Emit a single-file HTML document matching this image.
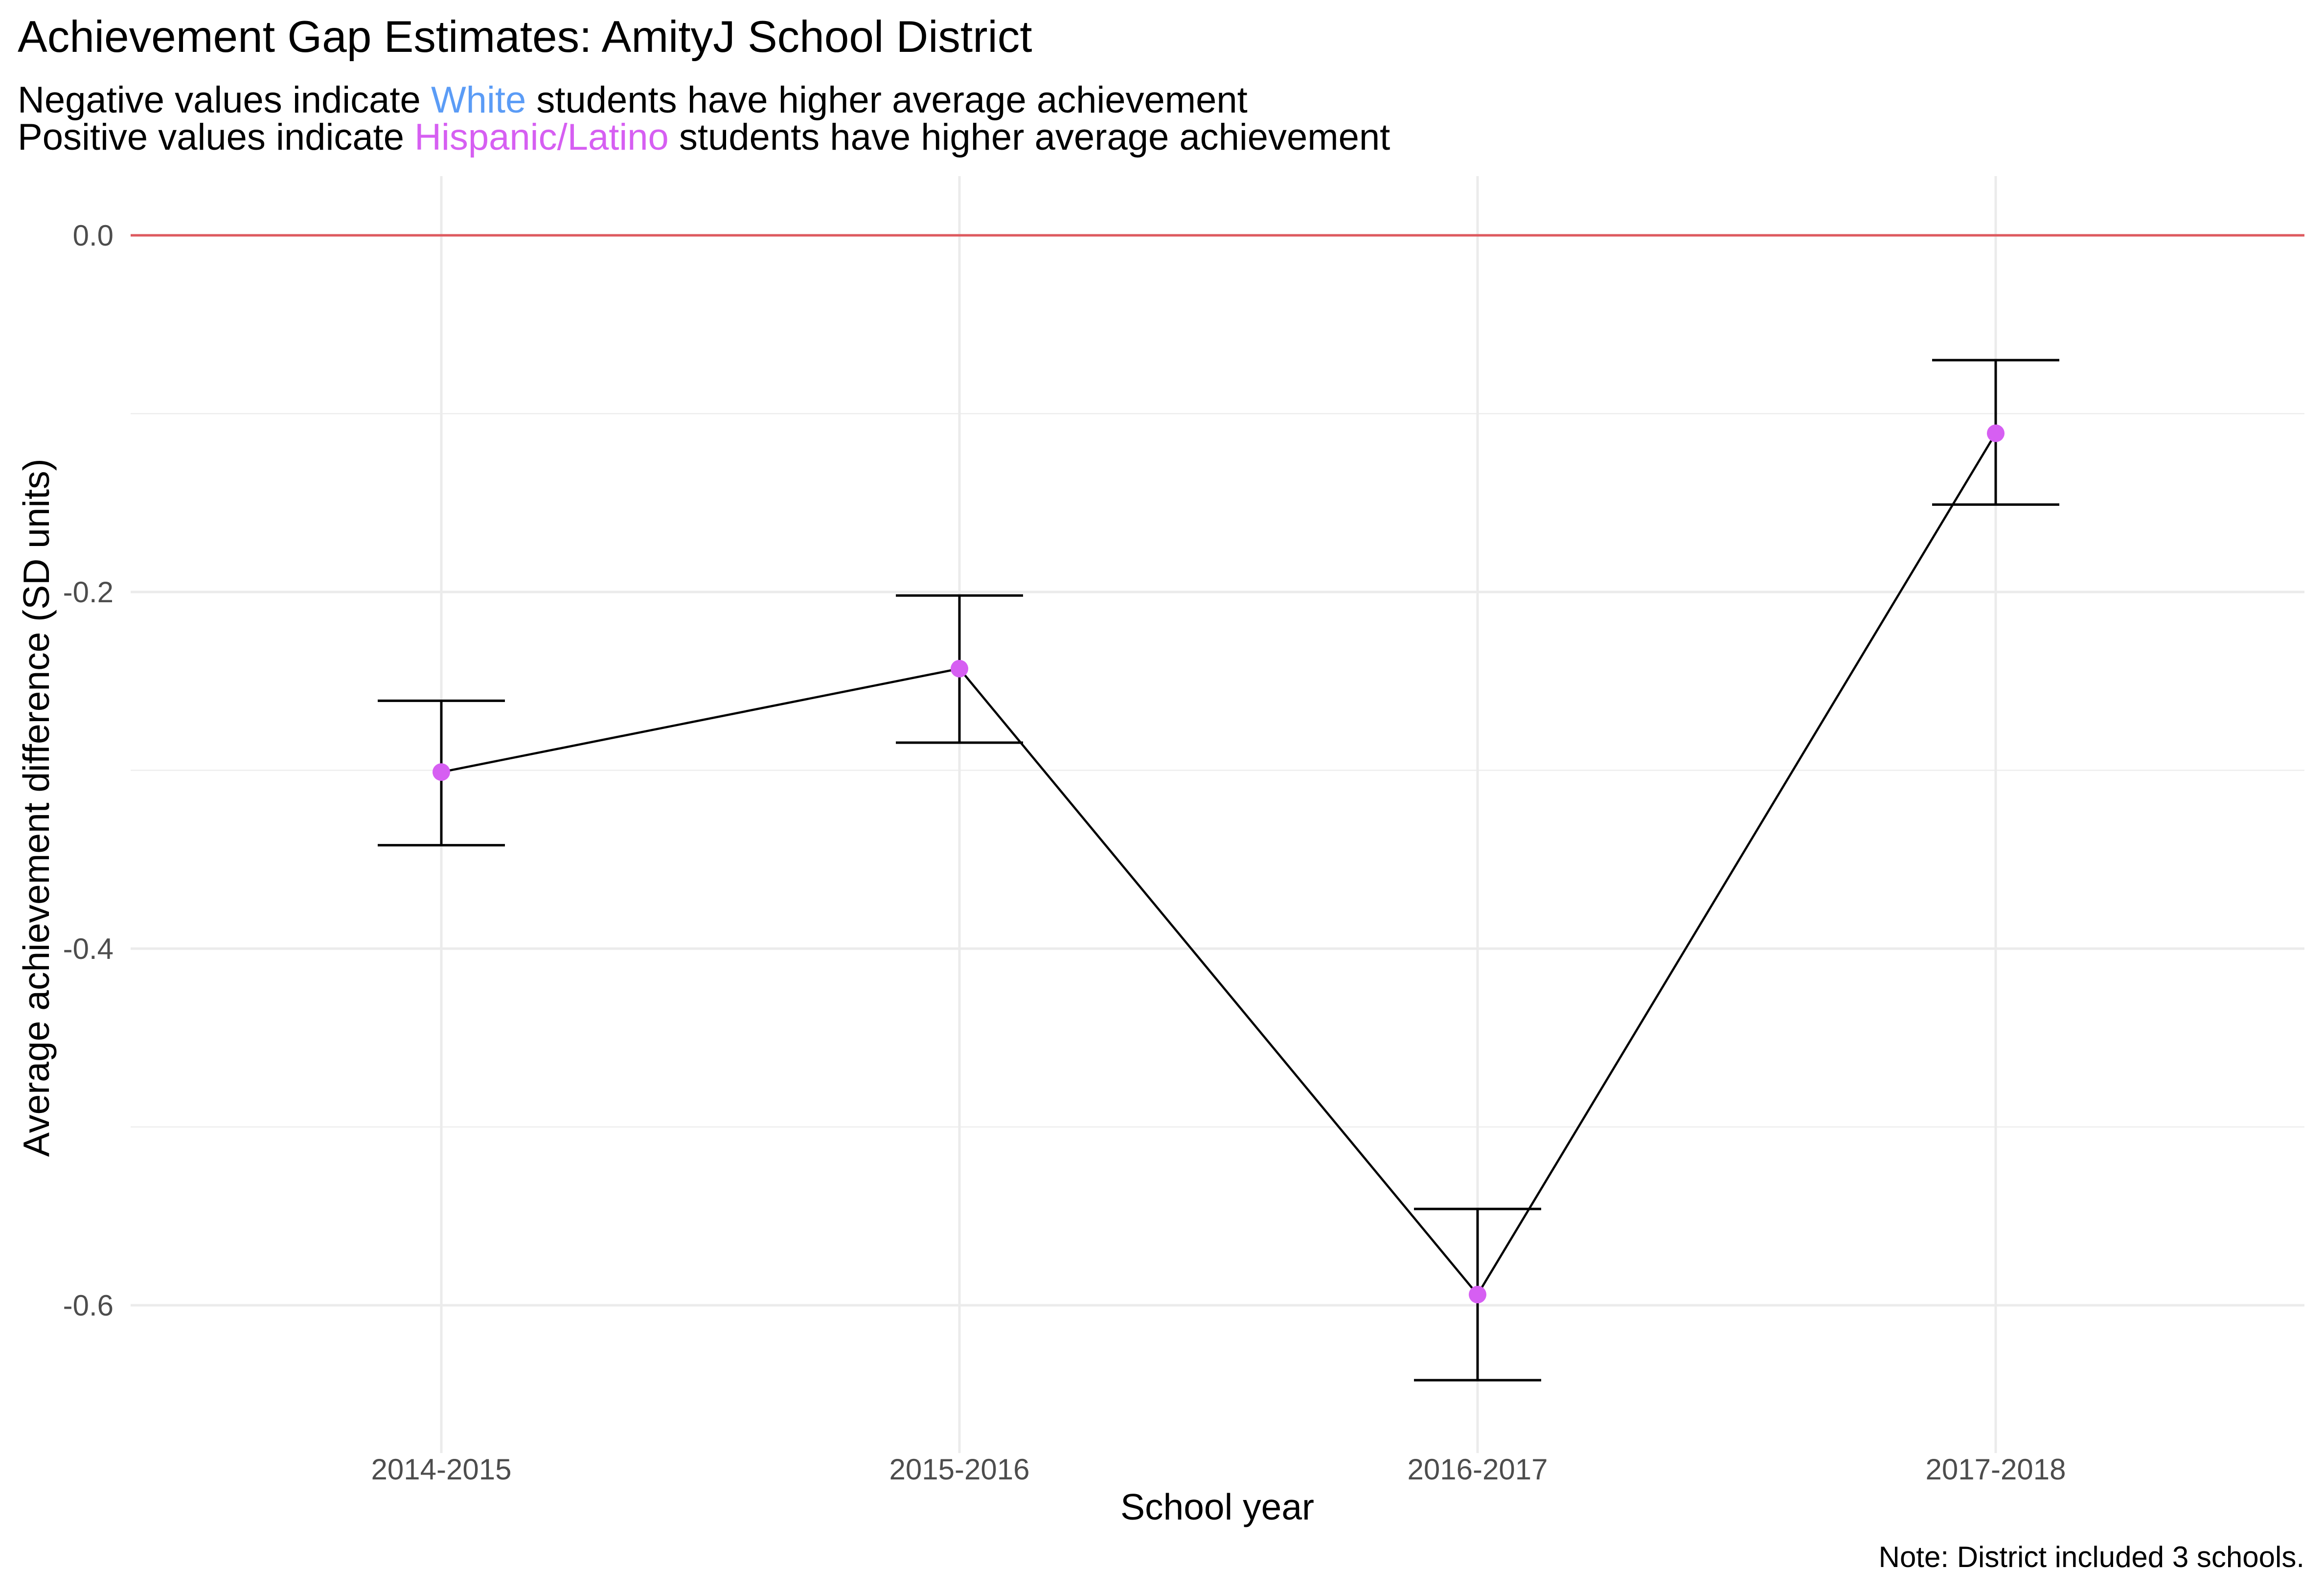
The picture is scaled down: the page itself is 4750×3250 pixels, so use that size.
<!DOCTYPE html>
<html><head><meta charset="utf-8"><style>
html,body{margin:0;padding:0;background:#fff;}
svg{display:block;font-family:"Liberation Sans",sans-serif;}
</style></head><body>
<svg id="chart" width="4750" height="3250" viewBox="0 0 4750 3250" xmlns="http://www.w3.org/2000/svg">
<text x="36" y="106" font-size="91" fill="#000">Achievement Gap Estimates: AmityJ School District</text>
<text x="36" y="230" font-size="76" fill="#000">Negative values indicate <tspan fill="#5b9cf6">White</tspan> students have higher average achievement</text>
<text x="36" y="306" font-size="76" fill="#000">Positive values indicate <tspan fill="#d65ff2">Hispanic/Latino</tspan> students have higher average achievement</text>
<g id="grid"></g>
<g id="marks"></g>
<g id="axes"></g>
<text x="2488" y="3106" font-size="75" text-anchor="middle" fill="#000">School year</text>
<text transform="translate(100,1651) rotate(-90)" font-size="75" text-anchor="middle" fill="#000">Average achievement difference (SD units)</text>
<text x="4710" y="3203" font-size="60" text-anchor="end" fill="#000">Note: District included 3 schools.</text>
</svg>
<script>
const categories = ["2014-2015","2015-2016","2016-2017","2017-2018"];
const estimates = [-0.301, -0.243, -0.594, -0.111];
const lower = [-0.342, -0.2845, -0.642, -0.151];
const upper = [-0.261, -0.202, -0.546, -0.070];
const yTicks = [0.0, -0.2, -0.4, -0.6];
const yTickLabels = ["0.0","-0.2","-0.4","-0.6"];
const yMinor = [-0.1, -0.3, -0.5];

const NS = "http://www.w3.org/2000/svg";
const plotL = 267, plotR = 4710, plotT = 360, plotB = 2970;
function y(v){ return 481 + (0 - v) * 3645 / 1.0; }
function x(i){ return 902 + i * 1059; }
function mk(tag, attrs, parent){
  const e = document.createElementNS(NS, tag);
  for (const k in attrs) e.setAttribute(k, attrs[k]);
  parent.appendChild(e); return e;
}
const grid = document.getElementById("grid"), marks = document.getElementById("marks"), axes = document.getElementById("axes");
yMinor.forEach(v => {
  const l = mk("line", {x1: plotL, x2: plotR, y1: y(v), y2: y(v), stroke: "#ededed", "stroke-width": 2.5}, grid);
  
  
});
yTicks.forEach((v, i) => {
  const l = mk("line", {x1: plotL, x2: plotR, y1: y(v), y2: y(v), stroke: "#ebebeb", "stroke-width": 5}, grid);
  
  
  const t = mk("text", {x: 232, y: y(v) + 21, "font-size": 60, "text-anchor": "end", fill: "#4d4d4d"}, axes);
  t.textContent = yTickLabels[i];
  
  
});
categories.forEach((c, i) => {
  const l = mk("line", {x1: x(i), x2: x(i), y1: plotT, y2: plotB, stroke: "#ebebeb", "stroke-width": 5}, grid);
  
  
  const t = mk("text", {x: x(i), y: 3024, "font-size": 60, "text-anchor": "middle", fill: "#4d4d4d"}, axes);
  t.textContent = c;
  
  
});
const zero = mk("line", {x1: plotL, x2: plotR, y1: y(0), y2: y(0), stroke: "#de5a5f", "stroke-width": 5}, marks);


categories.forEach((c, i) => {
  const g = mk("g", {}, marks);
  
  
  mk("line", {x1: x(i), x2: x(i), y1: y(upper[i]), y2: y(lower[i]), stroke: "#000", "stroke-width": 5}, g);
  mk("line", {x1: x(i) - 130, x2: x(i) + 130, y1: y(upper[i]), y2: y(upper[i]), stroke: "#000", "stroke-width": 5}, g);
  mk("line", {x1: x(i) - 130, x2: x(i) + 130, y1: y(lower[i]), y2: y(lower[i]), stroke: "#000", "stroke-width": 5}, g);
});
const pts = estimates.map((v, i) => x(i) + "," + y(v)).join(" ");
const pl = mk("polyline", {points: pts, fill: "none", stroke: "#000", "stroke-width": 4.5}, marks);


estimates.forEach((v, i) => {
  const c = mk("circle", {cx: x(i), cy: y(v), r: 18, fill: "#d65ff2"}, marks);
  
  
});
</script>
</body></html>
